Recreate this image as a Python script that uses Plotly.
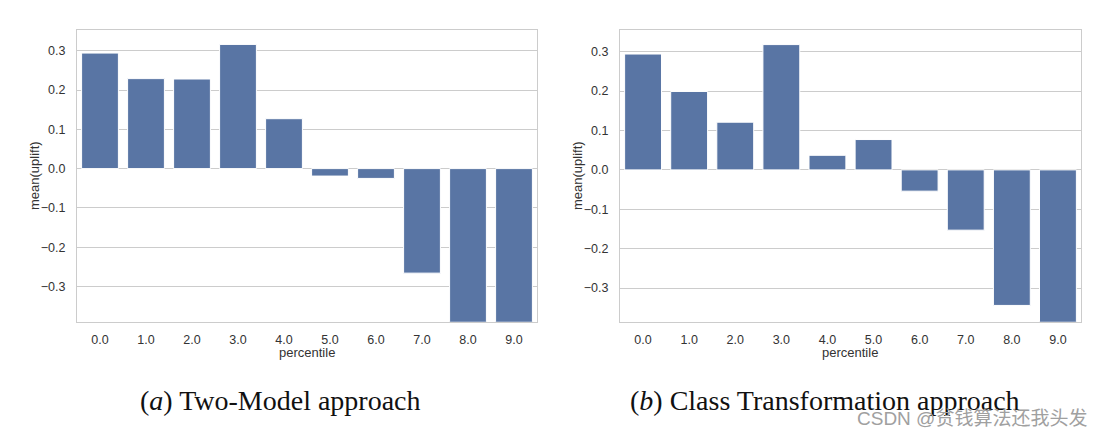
import plotly.graph_objects as go

categories = ["0.0", "1.0", "2.0", "3.0", "4.0", "5.0", "6.0", "7.0", "8.0", "9.0"]
two_model = [0.294, 0.229, 0.228, 0.316, 0.127, -0.019, -0.025, -0.266, -0.45, -0.45]
class_transform = [0.294, 0.199, 0.121, 0.318, 0.037, 0.077, -0.054, -0.153, -0.344, -0.42]
y_ticks = [-0.3, -0.2, -0.1, 0.0, 0.1, 0.2, 0.3]
captions = ["(<i>a</i>) Two-Model approach", "(<i>b</i>) Class Transformation approach"]
watermark = "CSDN @贫钱算法还我头发"

W, H = 1106, 437
BAR = "#5975a4"
GRID = "#cccccc"
TXT = "#333333"

fig = go.Figure()
fig.add_trace(go.Bar(x=categories, y=two_model, marker=dict(color=BAR, line=dict(color="white", width=1)),
                     xaxis="x", yaxis="y", showlegend=False))
fig.add_trace(go.Bar(x=categories, y=class_transform, marker=dict(color=BAR, line=dict(color="white", width=1)),
                     xaxis="x2", yaxis="y2", showlegend=False))

def px_x(p):
    return p / W

def px_y(p):
    return 1 - p / H

ydom = [px_y(321.7), px_y(30)]
axis_font = dict(family="Liberation Sans, Arial, sans-serif", size=12.5, color=TXT)

common_x = dict(type="category", showgrid=False, showline=True, mirror=True, linecolor=GRID, linewidth=1,
                ticks="", tickfont=axis_font, zeroline=False, ticklabelstandoff=6)
common_y = dict(showgrid=True, gridcolor=GRID, gridwidth=1, showline=True, mirror=True, linecolor=GRID,
                linewidth=1, ticks="", tickfont=axis_font, zeroline=False, tickvals=y_ticks,
                tickformat=".1f", ticklabelstandoff=8)

fig.update_layout(
    width=W, height=H, margin=dict(l=0, r=0, t=0, b=0),
    paper_bgcolor="white", plot_bgcolor="white", bargap=0.2,
    xaxis=dict(domain=[px_x(77), px_x(537)], anchor="y", **common_x),
    yaxis=dict(domain=ydom, anchor="x", range=[-0.3896, 0.3527], **common_y),
    xaxis2=dict(domain=[px_x(620), px_x(1081)], anchor="y2", **common_x),
    yaxis2=dict(domain=ydom, anchor="x2", range=[-0.3853, 0.355], **common_y),
)

ann = []
# axis titles
for cx in [307, 850]:
    ann.append(dict(text="percentile", x=px_x(cx), y=px_y(352), xref="paper", yref="paper",
                    showarrow=False, font=dict(family="Liberation Sans, Arial, sans-serif", size=13, color=TXT),
                    xanchor="center", yanchor="middle"))
for cx in [34, 577]:
    ann.append(dict(text="mean(uplift)", x=px_x(cx), y=px_y(176), xref="paper", yref="paper",
                    showarrow=False, textangle=-90,
                    font=dict(family="Liberation Sans, Arial, sans-serif", size=13, color=TXT),
                    xanchor="center", yanchor="middle"))
# captions
for cx, t in zip([280, 825], captions):
    ann.append(dict(text=t, x=px_x(cx), y=px_y(400), xref="paper", yref="paper", showarrow=False,
                    font=dict(family="Liberation Serif, serif", size=28, color="#111111"),
                    xanchor="center", yanchor="middle"))
ann.append(dict(text=watermark, x=px_x(1089), y=px_y(418), xref="paper", yref="paper", showarrow=False,
                font=dict(family="Liberation Sans, Noto Sans CJK SC, sans-serif", size=19, color="#a0a0a0"),
                xanchor="right", yanchor="middle"))
fig.update_layout(annotations=ann)

fig.write_html("out.html", config={"displayModeBar": False},
               post_script="document.body.style.margin='0';")
